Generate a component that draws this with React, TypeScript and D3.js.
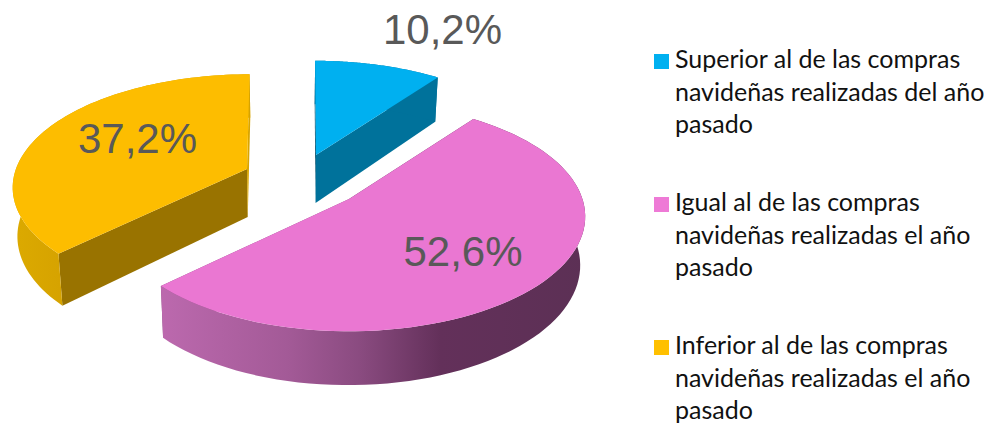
import React from "react";
import * as d3 from "d3";

const values = [10.2, 52.6, 37.2];
const valueLabels = ["10,2%", "52,6%", "37,2%"];
const legendLines = [
  ["Superior al de las compras", "navideñas realizadas del año", "pasado"],
  ["Igual al de las compras", "navideñas realizadas el año", "pasado"],
  ["Inferior al de las compras", "navideñas realizadas el año", "pasado"],
];
const topColors = ["#00b0f0", "#ea77d2", "#fdbd00"];
const legendColors = ["#00b0f0", "#ee7ad6", "#ffc000"];
const arcWallFills = ["#00729b", "url(#pinkWall)", "url(#goldWall)"];
const startWallFills = ["#004f6c", "#5e2f56", "#997300"];
const endWallFills = ["#00729b", "#8a4b80", "#d9a500"];

const W = 987, H = 423;
// apex of each exploded wedge on the page, its apparent size and lean
const apexes: [number, number][] = [[316, 155], [349, 199], [247, 169]];
const scalesX = [0.97, 0.985, 0.975];
const scalesY = [0.97, 1, 0.975];
const shears = [1, 0, -3];
const labelAnchors: [number, number][] = [[442.5, 44], [463, 266], [137.5, 153]];
const RX = 237, RY = 112, P = 0.153, DEPTH = 48, VANISH_X = 290, CONVERGE = 0.017;

type Pt = [number, number];
function projectXY(X: number, Y: number, i: number, bottom: boolean): Pt {
  const w = 1 - P * Y;
  const x = apexes[i][0] + (RX * scalesX[i] * X + shears[i] * Y) / w;
  const y = apexes[i][1] + (RY * scalesY[i] * Y) / w;
  if (!bottom) return [x, y];
  return [x + (VANISH_X - x) * CONVERGE, y + DEPTH / Math.pow(w, 0.7)];
}
const projectAngle = (a: number, i: number, bottom: boolean): Pt =>
  projectXY(Math.sin(a), -Math.cos(a), i, bottom);
const line = d3.line<Pt>();
const pie = d3.pie<number>().sort(null).value((d) => d);
const arcs = pie(values);

export default function App() {
  const slices = arcs.map((s, i) => {
    const apex = apexes[i];
    const steps = d3.range(0, 81).map((k) => s.startAngle + ((s.endAngle - s.startAngle) * k) / 80);
    const rim = steps.map((a) => projectAngle(a, i, false));
    const rimBottom = steps.map((a) => projectAngle(a, i, true));
    const apexBottom = projectXY(0, 0, i, true);
    return {
      top: line([apex, ...rim])! + "Z",
      arcWall: line([...rim, ...rimBottom.slice().reverse()])! + "Z",
      startWall: line([apex, rim[0], rimBottom[0], apexBottom])! + "Z",
      endWall: line([apex, rim[80], rimBottom[80], apexBottom])! + "Z",
    };
  });
  const legendBase = [68, 211, 354];
  return (
    <svg width={W} height={H} viewBox={`0 0 ${W} ${H}`} style={{ position: "absolute", left: 0, top: 0, display: "block" }}>
      <defs>
        <linearGradient id="pinkWall" gradientUnits="userSpaceOnUse" x1={160} x2={585} y1={0} y2={0}>
          <stop offset="0" stopColor="#bc69ae" />
          <stop offset="0.3" stopColor="#a35a97" />
          <stop offset="0.47" stopColor="#8a4b80" />
          <stop offset="0.66" stopColor="#63305a" />
          <stop offset="1" stopColor="#5c3055" />
        </linearGradient>
        <linearGradient id="goldWall" gradientUnits="userSpaceOnUse" x1={12} x2={60} y1={0} y2={0}>
          <stop offset="0" stopColor="#dcaa00" />
          <stop offset="1" stopColor="#d6a300" />
        </linearGradient>
      </defs>
      {slices.map((s, i) => (
        <g key={i}>
          <path d={s.startWall} fill={startWallFills[i]} />
          <path d={s.endWall} fill={endWallFills[i]} />
          <path d={s.arcWall} fill={arcWallFills[i]} />
          <path d={s.top} fill={topColors[i]} />
        </g>
      ))}
      {valueLabels.map((t, i) => (
        <text key={t} x={labelAnchors[i][0]} y={labelAnchors[i][1]} textAnchor="middle"
          fontFamily="'Liberation Sans', Arial, sans-serif" fontSize={42} fill="#595959">{t}</text>
      ))}
      {legendLines.map((lines, i) => (
        <g key={i}>
          <rect x={654} y={legendBase[i] - 14} width={15} height={15} fill={legendColors[i]} />
          {lines.map((l, j) => (
            <text key={j} x={675} y={legendBase[i] + j * 32.7} fontFamily="Lato, Carlito, sans-serif" fontSize={25} fill="#111">{l}</text>
          ))}
        </g>
      ))}
    </svg>
  );
}
